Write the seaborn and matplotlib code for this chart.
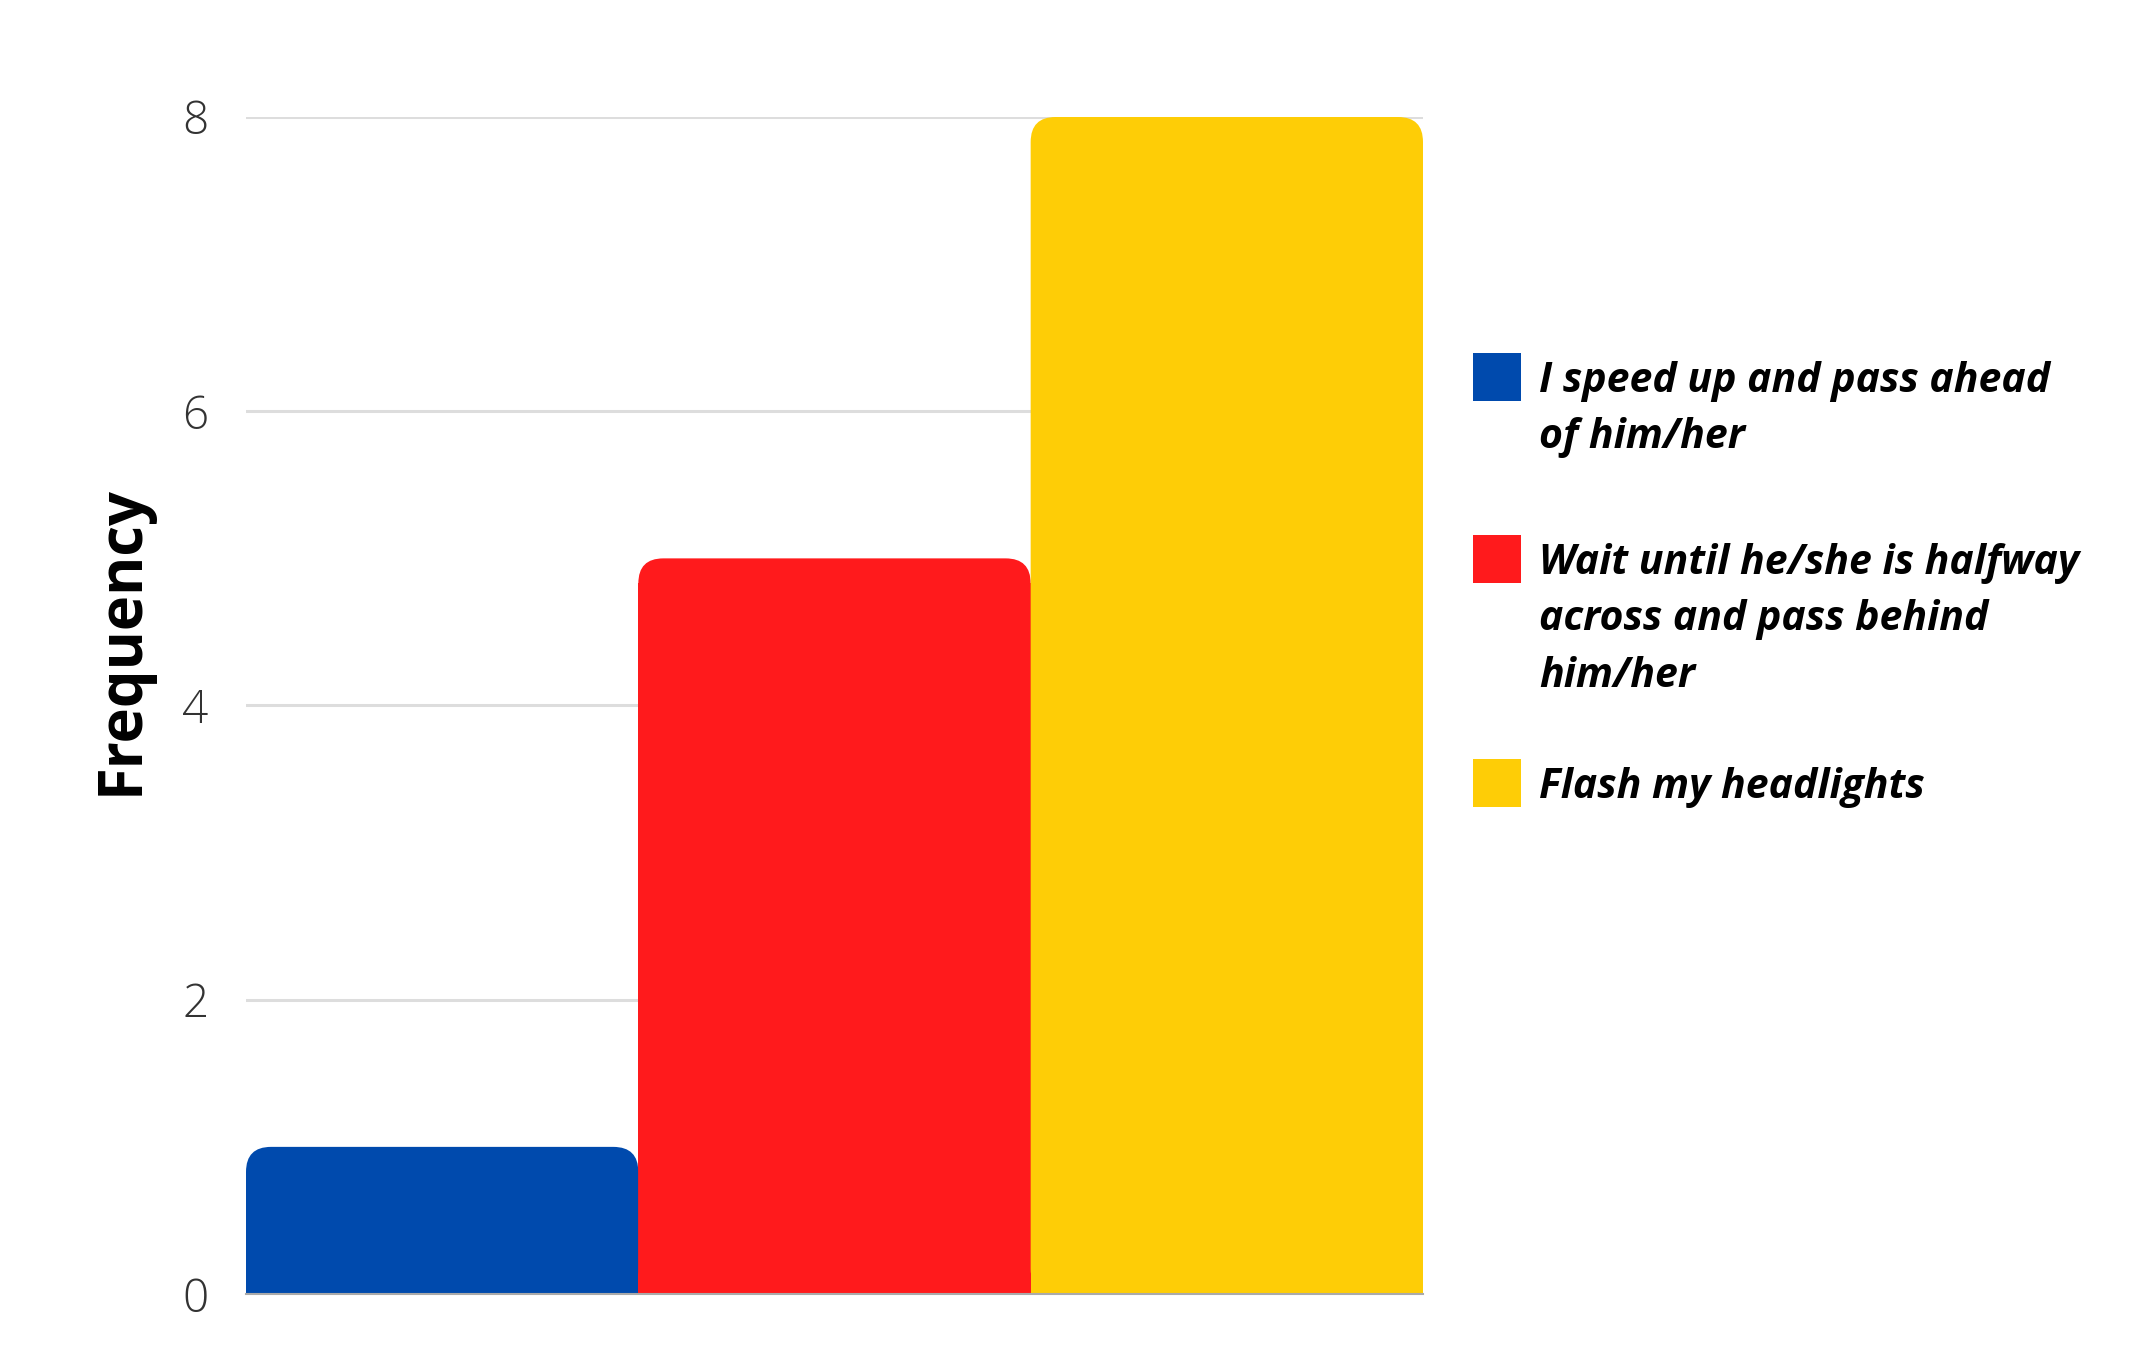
import matplotlib.pyplot as plt
import numpy as np
import pandas as pd
import seaborn as sns
from matplotlib.patches import FancyBboxPatch, Rectangle

# Chart data
responses = [
    "I speed up and pass ahead\nof him/her",
    "Wait until he/she is halfway\nacross and pass behind\nhim/her",
    "Flash my headlights",
]
frequency = [1, 5, 8]
bar_colors = ["#004AAD", "#FF1A1C", "#FECD06"]
y_ticks = [0, 2, 4, 6, 8]

sns.set_style("white")
plt.rcParams["font.family"] = ["Open Sans", "DejaVu Sans"]

df = pd.DataFrame({"response": responses, "frequency": frequency})

W, H = 2141, 1362
fig = plt.figure(figsize=(W / 100, H / 100), dpi=100)
ax = fig.add_axes([246 / W, 1 - 1294 / H, 1177 / W, 1177 / H])

sns.barplot(
    data=df,
    x="response",
    y="frequency",
    hue="response",
    palette=bar_colors,
    width=1.0,
    saturation=1,
    linewidth=0,
    legend=False,
    ax=ax,
    zorder=2,
)

ax.set_xlim(-0.5, 2.5)
ax.set_ylim(0, 8)
ax.set_yticks(y_ticks)
ax.set_xticks([])
ax.set_xlabel("")
ax.grid(axis="y", color="#DDDDDD", linewidth=2.2)
ax.set_axisbelow(True)
for side in ["top", "right", "left"]:
    ax.spines[side].set_visible(False)
ax.spines["bottom"].set_color("#AAAAAA")
ax.spines["bottom"].set_linewidth(1.5)
ax.spines["bottom"].set_zorder(3)
ax.tick_params(axis="y", length=0, pad=27, labelsize=33, labelcolor="#333333")
for lbl in ax.get_yticklabels():
    lbl.set_fontweight("light")

ax.set_ylabel("Frequency", fontsize=43, fontweight="bold", color="black")
ax.yaxis.set_label_coords(-0.079, 0.556)

# rounded top corners on the bars
p0 = ax.transData.transform((0, 0))
px_x = ax.transData.transform((1, 0))[0] - p0[0]
px_y = ax.transData.transform((0, 1))[1] - p0[1]
r_px = 25
for bar in list(ax.patches):
    x, w, h = bar.get_x(), bar.get_width(), bar.get_height()
    if h <= 0:
        continue
    rx = r_px / px_x
    ry = r_px / px_y
    bar.set_height(h - ry)
    ax.add_patch(
        FancyBboxPatch(
            (x, 0), w, h,
            boxstyle=f"round,pad=0,rounding_size={rx}",
            mutation_aspect=px_x / px_y,
            facecolor=bar.get_facecolor(),
            edgecolor="none",
            zorder=2,
        )
    )

# legend on the right, square aligned with first line of each label
legend_tops = [353, 535, 759]
for label, color, yt in zip(responses, bar_colors, legend_tops):
    fig.patches.append(
        Rectangle(
            (1473 / W, 1 - (yt + 48) / H), 48 / W, 48 / H,
            transform=fig.transFigure, facecolor=color, edgecolor="none",
        )
    )
    fig.text(
        1539 / W, 1 - (yt + 8) / H, label,
        fontsize=29.5, fontweight="bold", fontstyle="italic",
        color="black", va="top", ha="left", linespacing=1.5,
    )

fig.savefig("out.png", dpi=100, facecolor="white")
